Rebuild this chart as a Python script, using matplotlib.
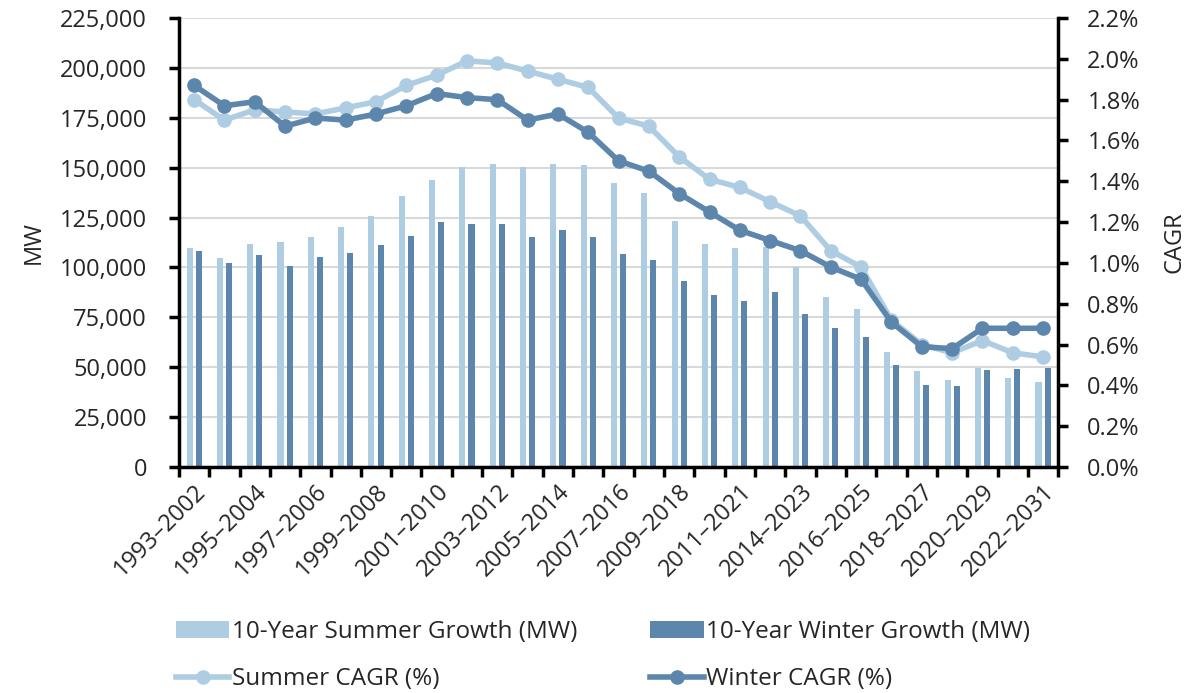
import matplotlib.pyplot as plt
import numpy as np
from matplotlib.ticker import FuncFormatter, MultipleLocator, FixedLocator

plt.rcParams['font.family'] = ['Open Sans', 'DejaVu Sans']

# 10-year windows (as labelled in the source chart)
periods = ['1993–2002', '1994–2003', '1995–2004', '1996–2005', '1997–2006',
           '1998–2007', '1999–2008', '2000–2009', '2001–2010', '2002–2011',
           '2003–2012', '2004–2013', '2005–2014', '2006–2015', '2007–2016',
           '2008–2017', '2009–2018', '2010–2019', '2011–2021', '2013–2022',
           '2014–2023', '2015–2024', '2016–2025', '2017–2026', '2018–2027',
           '2019–2028', '2020–2029', '2021–2030', '2022–2031']

summer_mw = [110000, 105000, 111800, 112700, 115200, 120300, 126000, 135700,
             144000, 150500, 151700, 150500, 151700, 151200, 142200, 137500,
             123500, 111800, 110000, 110500, 100300, 85000, 79300, 57500,
             48000, 43800, 49800, 44700, 42800]
winter_mw = [108300, 102300, 106300, 101000, 105500, 107500, 111300, 115800,
             123000, 121700, 121700, 115200, 119000, 115200, 106800, 103700,
             93300, 86300, 83000, 87500, 76700, 69700, 65200, 51000,
             41300, 40800, 48500, 49200, 49800]

summer_cagr = [1.80, 1.70, 1.75, 1.74, 1.73, 1.76, 1.79, 1.87, 1.92, 1.99,
               1.98, 1.94, 1.90, 1.86, 1.71, 1.67, 1.52, 1.41, 1.37, 1.30,
               1.23, 1.06, 0.98, 0.72, 0.60, 0.56, 0.62, 0.56, 0.54]
winter_cagr = [1.87, 1.77, 1.79, 1.67, 1.71, 1.70, 1.73, 1.77, 1.83, 1.81,
               1.80, 1.70, 1.73, 1.64, 1.50, 1.45, 1.34, 1.25, 1.16, 1.11,
               1.06, 0.98, 0.92, 0.71, 0.59, 0.58, 0.68, 0.68, 0.68]

light = '#AECDE3'
dark = '#5D86AD'
txt = '#262626'
fs = 17

fig = plt.figure(figsize=(11.85, 6.93), dpi=100)
ax = fig.add_axes([0.151, 0.326, 0.742, 0.648])
ax2 = ax.twinx()

x = np.arange(len(periods))
w = 0.2
b1 = ax.bar(x - 0.15, summer_mw, w, color=light, label='10-Year Summer Growth (MW)', zorder=2)
b2 = ax.bar(x + 0.15, winter_mw, w, color=dark, label='10-Year Winter Growth (MW)', zorder=2)

l1, = ax2.plot(x, summer_cagr, color=light, lw=4, marker='o', ms=9.5, label='Summer CAGR (%)')
l2, = ax2.plot(x, winter_cagr, color=dark, lw=4, marker='o', ms=9.5, label='Winter CAGR (%)')

ax.set_xlim(-0.5, len(periods) - 0.5)
ax.set_ylim(0, 225000)
ax.yaxis.set_major_locator(MultipleLocator(25000))
ax.yaxis.set_major_formatter(FuncFormatter(lambda v, p: f'{int(v):,}'))
ax.grid(axis='y', color='#D9D9D9', lw=1.5, zorder=0)
ax.set_axisbelow(True)

ax2.set_ylim(0, 2.2)
ax2.yaxis.set_major_locator(MultipleLocator(0.2))
ax2.yaxis.set_major_formatter(FuncFormatter(lambda v, p: f'{v:.1f}%'))

# tick marks at category boundaries, labels on every other category
ax.xaxis.set_major_locator(FixedLocator(np.arange(-0.5, len(periods), 1.0)))
ax.xaxis.set_major_formatter(FuncFormatter(lambda v, p: ''))
ax.xaxis.set_minor_locator(FixedLocator(x[::2]))
ax.set_xticklabels(periods[::2], minor=True, rotation=45, ha='right',
                   rotation_mode='anchor', fontsize=fs, color=txt)
ax.tick_params(axis='x', which='minor', length=0, pad=9)
ax.tick_params(axis='x', which='major', length=7, width=2.5, direction='out')
ax.tick_params(axis='y', length=7, width=2.5, labelsize=fs, labelcolor=txt, pad=16)
ax2.tick_params(axis='y', length=7, width=2.5, labelsize=fs, labelcolor=txt, pad=14)

ax.spines['top'].set_visible(False)
ax.spines['right'].set_visible(False)
for s in ('top', 'left', 'bottom'):
    ax2.spines[s].set_visible(False)
for s in ('left', 'bottom'):
    ax.spines[s].set_linewidth(2.5)
ax2.spines['right'].set_linewidth(2.5)

ax.set_ylabel('MW', fontsize=fs, color=txt, labelpad=10)
ax2.set_ylabel('CAGR', fontsize=fs, color=txt, labelpad=16)

# legend: bars on the first row, lines on the second
fig.legend(handles=[b1, l1, b2, l2], loc='upper left', bbox_to_anchor=(0.13, 0.137),
           ncol=2, frameon=False, fontsize=17.5, labelcolor=txt,
           columnspacing=3.0, handlelength=2.2, handletextpad=0.1,
           labelspacing=0.95)

fig.savefig('out.png', dpi=100)
